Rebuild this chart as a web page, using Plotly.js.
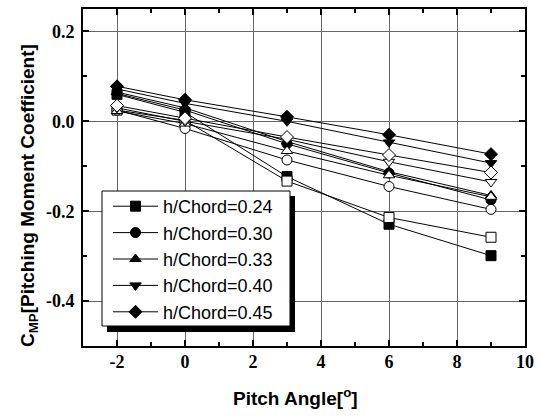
<!DOCTYPE html>
<html>
<head>
<meta charset="utf-8">
<script src="https://cdn.plot.ly/plotly-3.0.1.min.js"></script>
<style>html,body{margin:0;padding:0;background:#fff;}#chart{width:540px;height:416px;}</style>
</head>
<body>
<div id="chart"></div>
<script>
// Pitch angles (deg)
var pitch = [-2, 0, 3, 6, 9];
// Legend names (filled symbols)
var names = ['h/Chord=0.24', 'h/Chord=0.30', 'h/Chord=0.33', 'h/Chord=0.40', 'h/Chord=0.45'];
var symbols = ['square', 'circle', 'triangle-up', 'triangle-down', 'diamond'];
// Filled-symbol series
var filled024 = [0.060, 0.020, -0.123, -0.229, -0.299];
var filled030 = [0.062, 0.025, -0.050, -0.115, -0.175];
var filled033 = [0.065, 0.030, -0.045, -0.112, -0.165];
var filled040 = [0.072, 0.040, 0.000, -0.047, -0.093];
var filled045 = [0.078, 0.048, 0.010, -0.030, -0.073];
// Open-symbol series
var open024 = [0.025, 0.002, -0.133, -0.214, -0.258];
var open030 = [0.025, -0.016, -0.086, -0.145, -0.196];
var open033 = [0.023, -0.005, -0.066, -0.120, -0.168];
var open040 = [0.030, 0.000, -0.040, -0.090, -0.135];
var open045 = [0.035, 0.007, -0.035, -0.075, -0.114];
// Tick labels
var xTickVals = [-2, 0, 2, 4, 6, 8, 10];
var xTickText = ['-2', '0', '2', '4', '6', '8', '10'];
var yTickVals = [-0.4, -0.2, 0.0, 0.2];
var yTickText = ['-0.4', '-0.2', '0.0', '0.2'];

var filledSets = [filled024, filled030, filled033, filled040, filled045];
var openSets = [open024, open030, open033, open040, open045];

var traces = [];
for (var i = 0; i < 5; i++) {
  traces.push({
    x: pitch, y: filledSets[i], name: names[i], type: 'scatter', mode: 'lines+markers',
    line: {color: '#000', width: 1},
    marker: {symbol: symbols[i], size: 10, color: '#000', line: {color: '#000', width: 1}},
    showlegend: true
  });
}
for (var j = 0; j < 5; j++) {
  traces.push({
    x: pitch, y: openSets[j], name: names[j] + ' (open)', type: 'scatter', mode: 'lines+markers',
    line: {color: '#000', width: 1},
    marker: {symbol: symbols[j], size: 10, color: '#fff', line: {color: '#000', width: 1}},
    showlegend: false
  });
}

var L = 83, R = 525, T = 9, B = 346;
function px(xp) { return (xp - L) / (R - L); }
function py(yp) { return (B - yp) / (B - T); }

var layout = {
  width: 540, height: 416,
  margin: {l: L, r: 540 - R, t: T, b: 416 - B},
  paper_bgcolor: '#fff', plot_bgcolor: '#fff',
  showlegend: true,
  xaxis: {
    range: [-3, 10], tickvals: xTickVals, ticktext: xTickText,
    ticks: 'inside', ticklen: 6, tickwidth: 2, tickcolor: '#000',
    showline: true, linecolor: '#000', linewidth: 2, mirror: 'ticks',
    showgrid: true, gridcolor: '#666', gridwidth: 1, zeroline: false,
    minor: {dtick: 1, tick0: -3, ticks: 'inside', ticklen: 4, tickwidth: 2, tickcolor: '#000', showgrid: false},
    tickfont: {family: 'Liberation Serif, Times New Roman, serif', size: 18, color: '#000', weight: 'bold'},
    ticklabelstandoff: -2
  },
  yaxis: {
    range: [-0.5, 0.25], tickvals: yTickVals, ticktext: yTickText,
    ticks: 'inside', ticklen: 6, tickwidth: 2, tickcolor: '#000',
    showline: true, linecolor: '#000', linewidth: 2, mirror: 'ticks',
    showgrid: true, gridcolor: '#666', gridwidth: 1, zeroline: false,
    minor: {dtick: 0.1, tick0: -0.5, ticks: 'inside', ticklen: 4, tickwidth: 2, tickcolor: '#000', showgrid: false},
    tickfont: {family: 'Liberation Serif, Times New Roman, serif', size: 18, color: '#000', weight: 'bold'},
    ticklabelstandoff: 3
  },
  legend: {
    x: px(108), y: py(188), xanchor: 'left', yanchor: 'top',
    bgcolor: 'rgba(0,0,0,0)', borderwidth: 0,
    font: {family: 'Liberation Sans, Arial, sans-serif', size: 18, color: '#000'},
    itemwidth: 45, tracegroupgap: 0
  },
  shapes: [
    {type: 'rect', xref: 'paper', yref: 'paper', layer: 'above',
     x0: px(107), x1: px(295), y0: py(196), y1: py(332),
     fillcolor: '#000', line: {width: 0}},
    {type: 'rect', xref: 'paper', yref: 'paper', layer: 'above',
     x0: px(102), x1: px(290), y0: py(191), y1: py(326),
     fillcolor: '#fff', line: {color: '#000', width: 1}}
  ],
  annotations: [
    {text: '<b>C<sub>MP</sub>[Pitching Moment Coefficient]</b>', textangle: -90,
     xref: 'paper', yref: 'paper', x: px(29), y: py(196), xanchor: 'center', yanchor: 'middle',
     showarrow: false, font: {family: 'Liberation Sans, Arial, sans-serif', size: 19, color: '#000'}},
    {text: '<b>Pitch Angle[<sup>o</sup>]</b>',
     xref: 'paper', yref: 'paper', x: px(295), y: py(397), xanchor: 'center', yanchor: 'middle',
     showarrow: false, font: {family: 'Liberation Sans, Arial, sans-serif', size: 19, color: '#000'}}
  ]
};

Plotly.newPlot('chart', traces, layout, {displayModeBar: false, staticPlot: true});
</script>
</body>
</html>
